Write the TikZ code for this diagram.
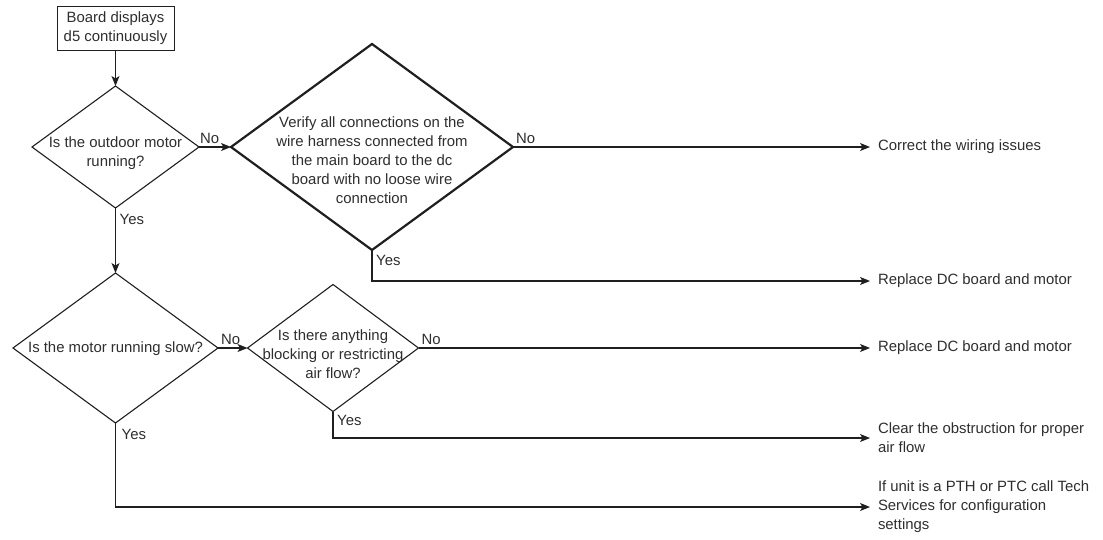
\documentclass[tikz,border=0pt]{standalone}
\usepackage{fontspec}
\setmainfont{Liberation Sans}
\usetikzlibrary{shapes.geometric,arrows.meta}
\begin{document}
\begin{tikzpicture}[x=1pt,y=1pt,
  every node/.style={font=\fontsize{14.9}{19}\selectfont, text=black!82},
  dia/.style={draw=black!88, line width=1.1pt, diamond, inner sep=0pt, outer sep=0pt},
  boxn/.style={draw=black!88, line width=1pt, rectangle, inner sep=0pt, outer sep=0pt, minimum width=117pt, minimum height=44pt, align=center},
  txt/.style={align=center, inner sep=0pt},
  outn/.style={align=left, inner sep=0pt, outer xsep=8pt, anchor=west},
  arr/.style={draw=black!88, line width=1.1pt, -{Stealth[length=10pt,width=8pt,inset=2.5pt]}},
  lblno/.style={anchor=south west, inner sep=0pt},
  lblyes/.style={anchor=north west, inner sep=0pt}
]
\useasboundingbox (0,0) rectangle (1103,-539);

% start box
\node[boxn] (start) at (115.5,-28) {Board displays\\d5 continuously};

% decisions
\node[dia, minimum width=167pt, minimum height=122pt] (d1) at (115.5,-147) {};
\node[txt] (t1) at (115.5,-153) {Is the outdoor motor\\running?};

\node[dia, line width=2.2pt, minimum width=282pt, minimum height=206pt] (d2) at (372,-147) {};
\node[txt] (t2) at (372,-160) {Verify all connections on the\\wire harness connected from\\the main board to the dc\\board with no loose wire\\connection};

\node[dia, minimum width=205pt, minimum height=150pt] (d3) at (115.5,-348) {};
\node[txt] (t3) at (115.5,-349) {Is the motor running slow?};

\node[dia, minimum width=171pt, minimum height=127pt] (d4) at (333,-348) {};
\node[txt] (t4) at (333,-354) {Is there anything\\blocking or restricting\\air flow?};

% outcomes
\node[outn] (o1) at (870,-147) {Correct the wiring issues};
\node[outn] (o2) at (870,-281) {Replace DC board and motor};
\node[outn] (o3) at (870,-348) {Replace DC board and motor};
\node[outn] (o4) at (870,-438) {Clear the obstruction for proper\\air flow};
\node[outn] (o5) at (870,-507) {If unit is a PTH or PTC call Tech\\Services for configuration\\settings};

% connectors
\draw[arr] (start.south) -- (d1.north);
\draw[arr] (d1.east) -- (d2.west);
\draw[arr] (d2.east) -- (o1.west);
\draw[arr] (d2.south) |- (o2.west);
\draw[arr] (d1.south) -- (d3.north);
\draw[arr] (d3.east) -- (d4.west);
\draw[arr] (d4.east) -- (o3.west);
\draw[arr] (d4.south) |- (o4.west);
\draw[arr] (d3.south) |- (o5.west);

% labels
\node[lblno] (n1) at ([xshift=1pt,yshift=3pt]d1.east) {No};
\node[lblno] (n2) at ([xshift=3pt,yshift=3pt]d2.east) {No};
\node[lblno] (n3) at ([xshift=3pt,yshift=3pt]d3.east) {No};
\node[lblno] (n4) at ([xshift=3pt,yshift=3pt]d4.east) {No};
\node[lblyes] (y1) at ([xshift=4pt,yshift=-6pt]d1.south) {Yes};
\node[lblyes] (y2) at ([xshift=4pt,yshift=-5pt]d2.south) {Yes};
\node[lblyes] (y3) at ([xshift=6pt,yshift=-6pt]d3.south) {Yes};
\node[lblyes] (y4) at ([xshift=4pt,yshift=-4pt]d4.south) {Yes};
\end{tikzpicture}
\end{document}
